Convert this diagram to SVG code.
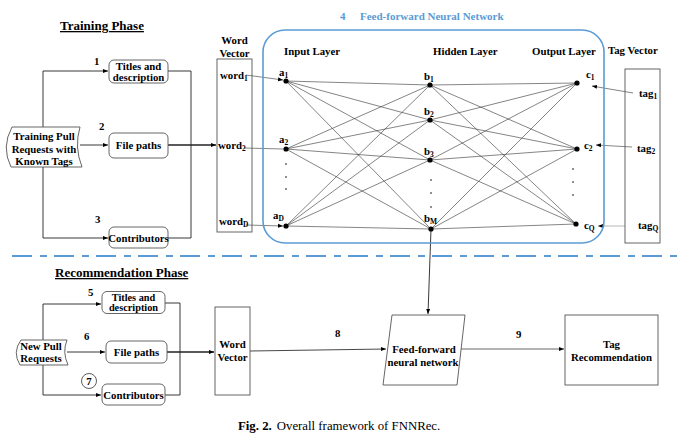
<svg xmlns="http://www.w3.org/2000/svg" width="681" height="440" viewBox="0 0 681 440">
<style>
text{font-family:"Liberation Serif","Times New Roman",serif;font-weight:bold;fill:#000;}
.t{font-size:10.8px;}
.h{font-size:13px;text-decoration:underline;}
.s{font-size:7.5px;}
.box{fill:#fff;stroke:#555;stroke-width:0.9;}
.ln{fill:none;stroke:#222;stroke-width:0.9;}
.nn{fill:none;stroke:#333;stroke-width:0.6;}
.nd{fill:#000;}
</style>
<defs>
<marker id="ar" viewBox="0 0 10 10" refX="10" refY="5" markerWidth="5" markerHeight="5" orient="auto" markerUnits="userSpaceOnUse"><path d="M0,1 L10,5 L0,9 z" fill="#000"/></marker>
</defs>
<rect width="681" height="440" fill="#fff"/>

<!-- headings -->
<text class="h" x="60" y="30">Training Phase</text>
<text class="h" x="55" y="277">Recommendation Phase</text>
<text x="340" y="20" style="font-size:11px;fill:#5b9bd5">4</text>
<text x="360" y="20" style="font-size:11px;fill:#5b9bd5">Feed-forward Neural Network</text>

<!-- dashed separator -->
<line x1="12" y1="256" x2="681" y2="256" stroke="#5b9bd5" stroke-width="2.2" stroke-dasharray="20 8 7 7"/>

<!-- connectors -->
<g id="connectors">
  <!-- training left -->
  <path class="ln" d="M43,127 V71 H108" marker-end="url(#ar)"/>
  <path class="ln" d="M43,166 V238 H108" marker-end="url(#ar)"/>
  <path class="ln" d="M80,145 H108" marker-end="url(#ar)"/>
  <!-- training right -->
  <path class="ln" d="M168,71 H191 V238 H168"/>
  <path class="ln" d="M168,145 H216" style="stroke-width:1.6" marker-end="url(#ar)"/>
  <!-- word to input -->
  <path class="nn" d="M246,75 L283,80" marker-end="url(#ar)"/>
  <path class="nn" d="M244,148 L283,149"/>
  <path class="nn" d="M246,225 L283,226" marker-end="url(#ar)"/>
  <!-- tags to output -->
  <path class="nn" d="M633,93 L592,86" marker-end="url(#ar)"/>
  <path class="nn" d="M632,147 L596,145" marker-end="url(#ar)"/>
  <path class="nn" d="M625,226 L598,226" style="stroke:#888" marker-end="url(#ar)"/>
  <!-- network to feed-forward -->
  <path class="ln" d="M431,229 L428,314" marker-end="url(#ar)"/>
  <!-- recommendation left -->
  <path class="ln" d="M43,340 V304 H101" marker-end="url(#ar)"/>
  <path class="ln" d="M43,365 V395 H101" marker-end="url(#ar)"/>
  <path class="ln" d="M67,352 H105" marker-end="url(#ar)"/>
  <path class="ln" d="M165,303 H180 V395 H165"/>
  <path class="ln" d="M167,352 H214" style="stroke-width:1.3" marker-end="url(#ar)"/>
  <path class="nn" d="M250,351 L386,349" style="stroke-width:0.9" marker-end="url(#ar)"/>
  <path class="nn" d="M460,349 L564,349" style="stroke-width:0.9;stroke:#555" marker-end="url(#ar)"/>
</g>

<!-- neural network -->
<g id="network">
  <rect x="263" y="30" width="341" height="213" rx="22" ry="22" fill="none" stroke="#5b9bd5" stroke-width="1.6"/>
  <g class="nn">
    <path d="M286,81 L430,85 M286,81 L430,120 M286,81 L430,160 M286,81 L431,229"/>
    <path d="M286,149 L430,85 M286,149 L430,120 M286,149 L430,160 M286,149 L431,229"/>
    <path d="M286,226 L430,85 M286,226 L430,120 M286,226 L430,160 M286,226 L431,229"/>
    <path d="M430,85 L577,83 M430,85 L577,149 M430,85 L576,224"/>
    <path d="M430,120 L577,83 M430,120 L577,149 M430,120 L576,224"/>
    <path d="M430,160 L577,83 M430,160 L577,149 M430,160 L576,224"/>
    <path d="M431,229 L577,83 M431,229 L577,149 M431,229 L576,224"/>
  </g>
  <g class="nd">
    <circle cx="286" cy="81" r="2.6"/><circle cx="286" cy="149" r="2.6"/><circle cx="286" cy="226" r="2.6"/>
    <circle cx="430" cy="85" r="2.6"/><circle cx="430" cy="120" r="2.6"/><circle cx="430" cy="160" r="2.6"/><circle cx="431" cy="229" r="2.6"/>
    <circle cx="577" cy="83" r="2.6"/><circle cx="577" cy="149" r="2.6"/><circle cx="576" cy="224" r="2.6"/>
    <circle cx="286" cy="164" r="0.8"/><circle cx="286" cy="177" r="0.8"/><circle cx="286" cy="189" r="0.8"/>
    <circle cx="431" cy="180" r="0.8"/><circle cx="431" cy="193" r="0.8"/><circle cx="431" cy="207" r="0.8"/>
    <circle cx="573" cy="169" r="0.8"/><circle cx="573" cy="182" r="0.8"/><circle cx="573" cy="195" r="0.8"/>
  </g>
  <text class="t" x="284" y="55">Input Layer</text>
  <text class="t" x="433" y="55">Hidden Layer</text>
  <text class="t" x="532" y="55">Output Layer</text>
  <text class="t" x="279" y="76">a<tspan class="s" dy="2">1</tspan></text>
  <text class="t" x="279" y="143">a<tspan class="s" dy="2">2</tspan></text>
  <text class="t" x="273" y="219">a<tspan class="s" dy="2">D</tspan></text>
  <text class="t" x="424" y="80">b<tspan class="s" dy="2">1</tspan></text>
  <text class="t" x="424" y="115">b<tspan class="s" dy="2">2</tspan></text>
  <text class="t" x="424" y="155">b<tspan class="s" dy="2">3</tspan></text>
  <text class="t" x="424" y="222">b<tspan class="s" dy="2">M</tspan></text>
  <text class="t" x="586" y="78">c<tspan class="s" dy="2">1</tspan></text>
  <text class="t" x="584" y="149">c<tspan class="s" dy="2">2</tspan></text>
  <text class="t" x="584" y="229">c<tspan class="s" dy="2">Q</tspan></text>
</g>

<!-- training nodes -->
<g id="train-source">
  <path class="box" d="M12,127 H80 Q74,147 82,167 H11 Q1,147 12,127 Z"/>
  <text class="t" x="44" y="140" text-anchor="middle">Training Pull</text>
  <text class="t" x="44" y="152.5" text-anchor="middle">Requests with</text>
  <text class="t" x="44" y="165" text-anchor="middle">Known Tags</text>
</g>
<g id="train-titles">
  <rect class="box" x="109" y="60" width="59" height="23" rx="5"/>
  <text class="t" x="138.5" y="69.5" text-anchor="middle">Titles and</text>
  <text class="t" x="138.5" y="80.5" text-anchor="middle">description</text>
</g>
<g id="train-files">
  <rect class="box" x="109" y="133" width="59" height="25" rx="5"/>
  <text class="t" x="138.5" y="149" text-anchor="middle">File paths</text>
</g>
<g id="train-contrib">
  <rect class="box" x="109" y="227" width="59" height="21" rx="5"/>
  <text class="t" x="138.5" y="241.5" text-anchor="middle">Contributors</text>
</g>
<text class="t" x="94" y="65">1</text>
<text class="t" x="99" y="130">2</text>
<text class="t" x="95" y="223">3</text>

<g id="word-vector">
  <text class="t" x="234.5" y="44" text-anchor="middle">Word</text>
  <text class="t" x="234.5" y="57" text-anchor="middle">Vector</text>
  <rect class="box" x="217" y="59" width="35" height="173" style="fill:none"/>
  <text class="t" x="220" y="79">word<tspan class="s" dy="2">1</tspan></text>
  <text class="t" x="218" y="149">word<tspan class="s" dy="2">2</tspan></text>
  <text class="t" x="219" y="225">word<tspan class="s" dy="2">D</tspan></text>
</g>

<g id="tag-vector">
  <text class="t" x="608" y="54">Tag Vector</text>
  <rect class="box" x="625" y="69" width="35" height="174" style="fill:none"/>
  <text class="t" x="639" y="97">tag<tspan class="s" dy="2">1</tspan></text>
  <text class="t" x="637" y="152">tag<tspan class="s" dy="2">2</tspan></text>
  <text class="t" x="638" y="229">tag<tspan class="s" dy="2">Q</tspan></text>
</g>

<!-- recommendation nodes -->
<g id="rec-source">
  <path class="box" d="M21,340 H67 Q62,352 68,365 H20 Q12,352 21,340 Z"/>
  <text class="t" x="41" y="350" text-anchor="middle">New Pull</text>
  <text class="t" x="41" y="361.5" text-anchor="middle">Requests</text>
</g>
<g id="rec-titles">
  <rect class="box" x="102" y="291.5" width="63" height="22" rx="5"/>
  <text class="t" text-anchor="middle" style="font-size:10.3px"><tspan x="133.5" y="300.5">Titles and</tspan><tspan x="133.5" y="311">description</tspan></text>
</g>
<g id="rec-files">
  <rect class="box" x="106" y="341" width="61" height="22" rx="5"/>
  <text class="t" x="136.5" y="356" text-anchor="middle">File paths</text>
</g>
<g id="rec-contrib">
  <rect class="box" x="102" y="384" width="63" height="21" rx="5"/>
  <text class="t" x="133.5" y="398.5" text-anchor="middle">Contributors</text>
</g>
<text class="t" x="88" y="296">5</text>
<text class="t" x="84" y="340">6</text>
<g id="step7">
  <circle cx="89" cy="381" r="7.5" fill="none" stroke="#333" stroke-width="0.8"/>
  <text class="t" x="89" y="384.5" text-anchor="middle">7</text>
</g>
<g id="rec-word-vector">
  <rect class="box" x="215" y="307" width="35" height="88"/>
  <text class="t" x="232.5" y="348" text-anchor="middle">Word</text>
  <text class="t" x="232.5" y="361" text-anchor="middle">Vector</text>
</g>
<text class="t" x="335" y="337">8</text>
<g id="rec-ffnn">
  <path class="box" d="M392,315 H465 L457,385 H383 Z"/>
  <text class="t" x="424" y="353" text-anchor="middle">Feed-forward</text>
  <text class="t" x="423" y="366" text-anchor="middle">neural network</text>
</g>
<text class="t" x="516" y="338">9</text>
<g id="rec-tag">
  <rect class="box" x="565" y="315" width="93" height="70"/>
  <text class="t" x="611.5" y="348" text-anchor="middle">Tag</text>
  <text class="t" x="611.5" y="361" text-anchor="middle">Recommendation</text>
</g>

<text x="238" y="430" style="font-size:12.8px"><tspan>Fig. 2.</tspan><tspan style="font-weight:normal" dx="5">Overall framework of FNNRec.</tspan></text>
</svg>
